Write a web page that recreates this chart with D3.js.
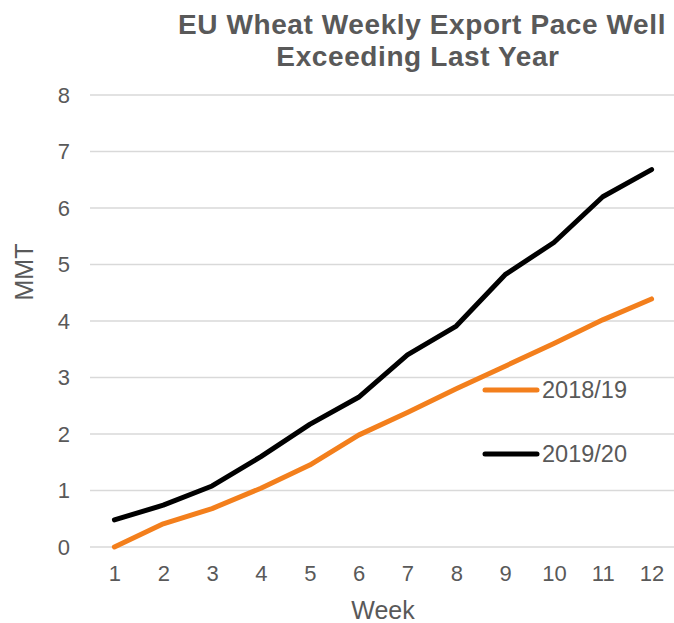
<!DOCTYPE html>
<html>
<head>
<meta charset="utf-8">
<script src="https://cdn.jsdelivr.net/npm/d3@7"></script>
<style>
  body { margin: 0; background: #fff; }
  text { font-family: "Liberation Sans", Arial, sans-serif; fill: #595959; }
</style>
</head>
<body>
<div id="chart"></div>
<script>
/* DATA */
const weeks = [1, 2, 3, 4, 5, 6, 7, 8, 9, 10, 11, 12];
const pace1819 = [0, 0.41, 0.68, 1.04, 1.45, 1.98, 2.38, 2.8, 3.2, 3.6, 4.02, 4.39];
const pace1920 = [0.48, 0.74, 1.08, 1.6, 2.17, 2.65, 3.4, 3.91, 4.82, 5.39, 6.2, 6.68];
const yTicks = [0, 1, 2, 3, 4, 5, 6, 7, 8];
const seriesNames = ["2018/19", "2019/20"];
const seriesColors = ["#f37f1c", "#000000"];

/* LAYOUT */
const width = 674, height = 623;
const margin = { top: 95, right: -2, bottom: 76, left: 90 };
const innerW = width - margin.left - margin.right;
const innerH = height - margin.top - margin.bottom;

const svg = d3.select("#chart").append("svg")
  .attr("width", width)
  .attr("height", height);

// Title
const title = svg.append("text")
  .attr("text-anchor", "middle")
  .style("font-size", "28px")
  .style("font-weight", "bold")
  .style("letter-spacing", "0.6px");
title.append("tspan").attr("x", 422).attr("y", 34).text("EU Wheat Weekly Export Pace Well");
title.append("tspan").attr("x", 418).attr("y", 66).text("Exceeding Last Year");

const g = svg.append("g").attr("transform", `translate(${margin.left},${margin.top})`);

// Scales
const x = d3.scalePoint().domain(weeks).range([0, innerW]).padding(0.5);
const y = d3.scaleLinear().domain([0, 8]).range([innerH, 0]);

// Gridlines
g.append("g")
  .selectAll("line")
  .data(yTicks)
  .enter()
  .append("line")
  .attr("x1", 0)
  .attr("x2", innerW)
  .attr("y1", (d) => y(d))
  .attr("y2", (d) => y(d))
  .attr("stroke", "#d9d9d9")
  .attr("stroke-width", 1.5);

// Y axis labels
const yAxis = g.append("g")
  .call(d3.axisLeft(y).tickValues(yTicks).tickSize(0).tickPadding(20));
yAxis.select(".domain").remove();
yAxis.selectAll("text").style("font-size", "22px").attr("fill", "#595959");

// X axis labels
const xAxis = g.append("g")
  .attr("transform", `translate(0,${innerH})`)
  .call(d3.axisBottom(x).tickSize(0).tickPadding(18));
xAxis.select(".domain").remove();
xAxis.selectAll("text").style("font-size", "22px").attr("fill", "#595959");

// Axis titles
svg.append("text")
  .attr("transform", "rotate(-90)")
  .attr("x", -272)
  .attr("y", 33)
  .attr("text-anchor", "middle")
  .style("font-size", "25px")
  .text("MMT");

svg.append("text")
  .attr("x", 383)
  .attr("y", 619)
  .attr("text-anchor", "middle")
  .style("font-size", "25px")
  .text("Week");

// Lines
const line = d3.line()
  .x((d, i) => x(weeks[i]))
  .y((d) => y(d));

[pace1819, pace1920].forEach((values, k) => {
  g.append("path")
    .datum(values)
    .attr("fill", "none")
    .attr("stroke", seriesColors[k])
    .attr("stroke-width", 5)
    .attr("stroke-linecap", "round")
    .attr("stroke-linejoin", "round")
    .attr("d", line);
});

// Legend
const legend = svg.append("g");
seriesNames.forEach((name, k) => {
  const ly = 390 + k * 64;
  legend.append("line")
    .attr("x1", 485).attr("x2", 537)
    .attr("y1", ly).attr("y2", ly)
    .attr("stroke", seriesColors[k])
    .attr("stroke-width", 5)
    .attr("stroke-linecap", "round");
  legend.append("text")
    .attr("x", 542)
    .attr("y", ly + 8)
    .style("font-size", "23.5px")
    .text(name);
});
</script>
</body>
</html>
